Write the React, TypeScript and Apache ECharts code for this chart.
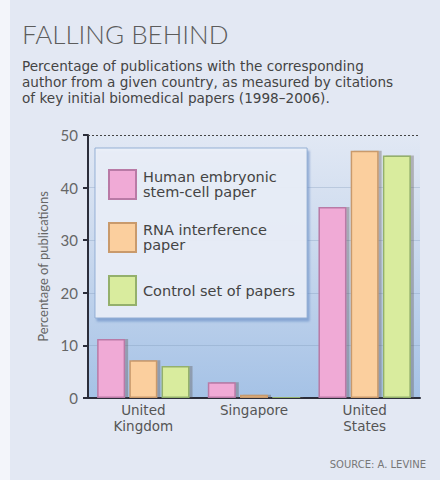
import React, { useEffect, useRef } from "react";
import * as echarts from "echarts";

const categories = ["United\nKingdom", "Singapore", "United\nStates"];
const seriesNames = ["Human embryonic\nstem-cell paper", "RNA interference\npaper", "Control set of papers"];
const embryonic = [11.2, 3.0, 36.3];
const rnai = [7.2, 0.6, 47.0];
const control = [6.1, 0.3, 46.1];
const yTicks = [0, 10, 20, 30, 40, 50];

const fills = ["#f0aad6", "#fbcf9e", "#d9ec9e"];
const borders = ["#b97aa6", "#c99a6c", "#94b06c"];

export default function App() {
  const ref = useRef<HTMLDivElement>(null);
  useEffect(() => {
    document.body.style.margin = "0";
    const chart = echarts.init(ref.current!, null, { renderer: "svg" });
    const font = "Lato, 'Open Sans', sans-serif";
    const wide = "'DejaVu Sans', sans-serif";
    const data = [embryonic, rnai, control];
    chart.setOption({
      animation: false,
      backgroundColor: "#e3e8f3",
      textStyle: { fontFamily: font },
      graphic: [
        { type: "rect", left: 0, top: 0, shape: { width: 10, height: 480 }, style: { fill: "#f3f5fa" }, z: -10 },
        {
          type: "text", left: 22, top: 21,
          style: { text: "FALLING BEHIND", fontSize: 26, fill: "#5c5c5c", fontFamily: font, fontWeight: 300 },
        },
        {
          type: "text", left: 22, top: 58,
          style: {
            text: "Percentage of publications with the corresponding\nauthor from a given country, as measured by citations\nof key initial biomedical papers (1998–2006).",
            fontSize: 13.6, lineHeight: 16, fill: "#444", fontFamily: wide,
          },
        },
        {
          type: "text", right: 14, top: 459,
          style: { text: "SOURCE: A. LEVINE", fontSize: 10, fill: "#777", fontFamily: wide },
        },
      ],
      grid: {
        left: 88, right: 20, top: 135, bottom: 82, show: true, borderWidth: 0,
        backgroundColor: new echarts.graphic.LinearGradient(0, 0, 0, 1, [
          { offset: 0, color: "#e1e8f4" },
          { offset: 0.35, color: "#cfdcef" },
          { offset: 1, color: "#a5c2e6" },
        ]),
      },
      legend: {
        orient: "vertical", left: 95, top: 148,
        padding: [21, 12, 12, 13],
        itemWidth: 27, itemHeight: 29, itemGap: 22,
        backgroundColor: "rgba(236,241,250,0.9)",
        borderColor: "rgba(140,170,210,0.9)", borderWidth: 1,
        shadowColor: "rgba(90,130,190,0.6)", shadowOffsetX: 2, shadowOffsetY: 3, shadowBlur: 2,
        icon: "rect",
        itemStyle: { shadowBlur: 0, shadowOffsetX: 0, shadowColor: "transparent" },
        textStyle: { fontSize: 14.5, lineHeight: 14.5, color: "#444", fontFamily: wide, padding: [0, 0, 0, 2] },
        data: seriesNames,
      },
      xAxis: {
        type: "category", data: categories,
        axisLine: { lineStyle: { color: "#2b2d3a", width: 2 } },
        axisTick: { lineStyle: { color: "#2b2d3a", width: 2 }, length: 5 },
        axisLabel: { fontSize: 13.5, lineHeight: 16, color: "#555", margin: 4, fontFamily: wide },
      },
      yAxis: {
        type: "value", min: 0, max: 50, interval: 10,
        name: "Percentage of publications", nameLocation: "middle", nameGap: 23,
        nameTextStyle: { fontSize: 13, color: "#666", fontFamily: font },
        axisLine: { show: true, lineStyle: { color: "#2b2d3a", width: 2 } },
        axisTick: { show: true, lineStyle: { color: "#2b2d3a", width: 2 }, length: 5 },
        axisLabel: { fontSize: 15, color: "#666", margin: 10, fontFamily: font, formatter: (v: number) => (yTicks.includes(v) ? String(v) : "") },
        splitLine: { show: true, lineStyle: { color: ["rgba(0,0,0,0)", "rgba(120,145,180,0.3)", "rgba(120,145,180,0.3)", "rgba(120,145,180,0.3)", "rgba(120,145,180,0.3)", "rgba(0,0,0,0)"] } },
      },
      series: seriesNames.map((name, i) => ({
        type: "bar", name, data: data[i], barWidth: 28, barGap: "15%",
        itemStyle: {
          color: fills[i], borderColor: borders[i], borderWidth: 1.5,
          shadowColor: "rgba(90,80,70,0.35)", shadowOffsetX: 3, shadowOffsetY: 0, shadowBlur: 0,
        },
        markLine: i === 0 ? {
          silent: true, symbol: "none", label: { show: false },
          lineStyle: { color: "#444", type: [2, 2], width: 1 },
          data: [{ yAxis: 50 }],
        } : undefined,
      })),
    });
    return () => chart.dispose();
  }, []);
  return <div ref={ref} style={{ position: "fixed", left: 0, top: 0, width: 440, height: 480 }} />;
}
